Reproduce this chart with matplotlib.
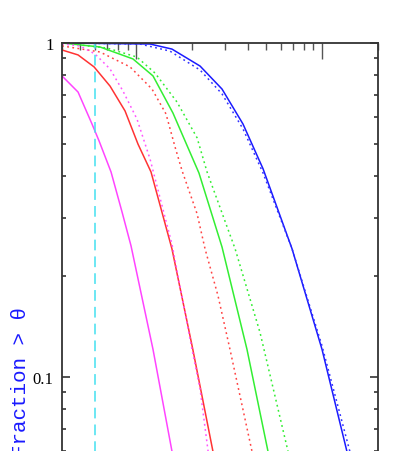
import matplotlib
matplotlib.use('Agg')
import matplotlib.pyplot as plt
from matplotlib.ticker import LogLocator, NullFormatter, FixedLocator, FixedFormatter

plt.rcParams['figure.facecolor'] = 'white'
plt.rcParams['axes.facecolor'] = 'white'

# cumulative fraction of separations greater than theta
blue_x = [0.4, 1.19, 1.56, 2.21, 2.90, 3.76, 4.82, 6.90, 10.0, 13.6, 15.5]
blue_y = [1.0, 0.993, 0.959, 0.853, 0.728, 0.572, 0.420, 0.242, 0.121, 0.060, 0.045]
blue_dot_x = [0.4, 1.05, 1.52, 2.21, 2.90, 3.76, 4.82, 6.90, 10.0, 14.1, 16.0]
blue_dot_y = [1.0, 0.993, 0.946, 0.830, 0.704, 0.553, 0.408, 0.242, 0.124, 0.060, 0.045]

green_x = [0.4, 0.64, 0.963, 1.234, 1.58, 2.18, 2.90, 3.95, 5.12, 5.8]
green_y = [1.0, 0.973, 0.896, 0.797, 0.617, 0.408, 0.245, 0.121, 0.060, 0.045]
green_dot_x = [0.4, 0.698, 1.01, 1.265, 1.66, 2.13, 2.41, 3.41, 4.64, 6.56, 7.4]
green_dot_y = [1.0, 0.966, 0.908, 0.813, 0.666, 0.520, 0.411, 0.242, 0.136, 0.060, 0.045]

red_x = [0.4, 0.488, 0.595, 0.725, 0.873, 1.025, 1.204, 1.56, 2.02, 2.59, 2.9]
red_y = [0.953, 0.921, 0.848, 0.743, 0.626, 0.498, 0.411, 0.242, 0.121, 0.060, 0.045]
red_dot_x = [0.4, 0.64, 0.929, 1.219, 1.45, 1.62, 1.77, 2.13, 2.35, 2.76, 3.20, 4.2, 4.7]
red_dot_y = [0.98, 0.94, 0.848, 0.728, 0.613, 0.489, 0.414, 0.308, 0.242, 0.175, 0.121, 0.060, 0.045]

mag_x = [0.4, 0.488, 0.58, 0.633, 0.734, 0.841, 0.94, 1.234, 1.56, 1.75]
mag_y = [0.797, 0.713, 0.572, 0.509, 0.411, 0.312, 0.247, 0.121, 0.060, 0.045]
mag_dot_x = [0.4, 0.5, 0.602, 0.725, 0.851, 1.012, 1.19, 1.56, 2.0, 2.21, 2.44, 2.7]
mag_dot_y = [0.993, 0.98, 0.927, 0.836, 0.718, 0.592, 0.449, 0.25, 0.121, 0.092, 0.060, 0.045]

theta_cut = 0.6

fig = plt.figure(figsize=(3.99, 4.52), dpi=100)
# axes runs past the bottom of the figure, as in the cropped original
ax = fig.add_axes([62/399, 1 - 712/452, 316/399, 668/452])
ax.set_xscale('log')
ax.set_yscale('log')
ax.set_xlim(0.4, 20)
ax.set_ylim(0.01, 1)

dot = (0, (1.2, 2.2))
ax.plot(blue_x, blue_y, color='#1a1aff', lw=1.1)
ax.plot(blue_dot_x, blue_dot_y, color='#3333ff', lw=1.1, linestyle=dot)
ax.plot(green_x, green_y, color='#33ee33', lw=1.1)
ax.plot(green_dot_x, green_dot_y, color='#33ee33', lw=1.1, linestyle=dot)
ax.plot(red_x, red_y, color='#ff3333', lw=1.1)
ax.plot(red_dot_x, red_dot_y, color='#ff4444', lw=1.1, linestyle=dot)
ax.plot(mag_x, mag_y, color='#ff44ff', lw=1.1)
ax.plot(mag_dot_x, mag_dot_y, color='#ff55ff', lw=1.1, linestyle=dot)
ax.axvline(theta_cut, color='#44e0f0', lw=1.1, linestyle=(0, (7, 4)))

for s in ax.spines.values():
    s.set_color('#333333')
    s.set_linewidth(1.3)

ax.xaxis.set_major_locator(LogLocator(base=10))
ax.xaxis.set_minor_locator(LogLocator(base=10, subs=range(2, 10)))
ax.xaxis.set_minor_formatter(NullFormatter())
ax.yaxis.set_major_locator(FixedLocator([0.01, 0.1, 1]))
ax.yaxis.set_major_formatter(FixedFormatter(['0.01', '0.1', '1']))
ax.yaxis.set_minor_locator(LogLocator(base=10, subs=range(2, 10)))
ax.yaxis.set_minor_formatter(NullFormatter())

ax.tick_params(axis='x', which='major', direction='in', top=True, length=11.5,
               width=1.0, color='#555555', labeltop=False, labelbottom=False)
ax.tick_params(axis='x', which='minor', direction='in', top=True, length=5,
               width=1.0, color='#555555')
ax.tick_params(axis='y', which='major', direction='in', right=True, length=6,
               width=1.2, color='#333333', pad=6, labelsize=12)
ax.tick_params(axis='y', which='minor', direction='in', right=True, length=3,
               width=1.2, color='#333333')
for lab in ax.get_yticklabels():
    lab.set_family('Liberation Serif')

fig.text(21/399, 1 - 382/452, 'Fraction > \u03b8', rotation=90, ha='center', va='center',
         color='#1a1aff', fontsize=15, family=['Liberation Mono', 'DejaVu Sans Mono'])

fig.savefig('out.png', dpi=100)
